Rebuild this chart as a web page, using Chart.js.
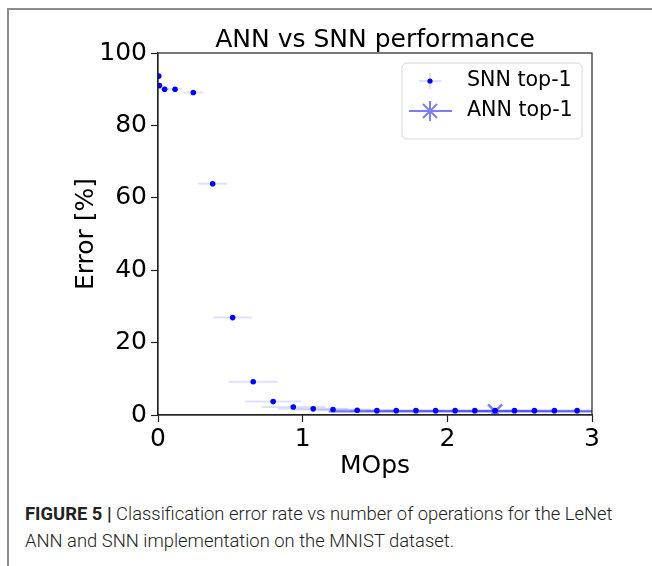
<!DOCTYPE html>
<html>
<head>
<meta charset="utf-8">
<script src="https://cdn.jsdelivr.net/npm/chart.js@4"></script>
<style>
  body { margin: 0; background: #fff; width: 652px; height: 566px; overflow: hidden; position: relative; }
  #frame { position: absolute; left: 7px; top: 8px; width: 700px; height: 600px;
           border-left: 2px solid #8c8c8c; border-top: 2px solid #8c8c8c; }
  #wrap { position: absolute; left: 0; top: 0; width: 652px; height: 480px; }
  #caption { position: absolute; left: 25px; top: 500px; width: 625px;
             font-family: Roboto, "Liberation Sans", sans-serif; font-weight: 300;
             font-size: 18.4px; line-height: 27px; color: #222; }
  #caption b { font-weight: 700; }
</style>
</head>
<body>
<div id="frame"></div>
<div id="wrap"><canvas id="chart" width="652" height="480"></canvas></div>
<div id="caption"><b>FIGURE 5 |</b> Classification error rate vs number of operations for the LeNet<br>ANN and SNN implementation on the MNIST dataset.</div>
<script>
// SNN operating points (MOps, error %) with horizontal error bars
const snnOps = [0.005, 0.01, 0.046, 0.118, 0.244, 0.378, 0.516, 0.658, 0.796, 0.935, 1.073, 1.21,
                1.377, 1.513, 1.647, 1.783, 1.919, 2.054, 2.19, 2.33, 2.464, 2.602, 2.74, 2.897];
const snnErr = [93.6, 91.0, 90.0, 90.0, 89.1, 63.9, 26.9, 9.2, 3.7, 2.2, 1.7, 1.5,
                1.3, 1.2, 1.2, 1.2, 1.2, 1.2, 1.2, 1.2, 1.2, 1.2, 1.2, 1.2];
const snnOpsSpread = [0.01, 0.02, 0.03, 0.05, 0.07, 0.10, 0.135, 0.17, 0.195, 0.22, 0.24, 0.26,
                      0.28, 0.30, 0.32, 0.34, 0.36, 0.38, 0.40, 0.42, 0.44, 0.46, 0.48, 0.50];
// ANN reference point
const annOps = [2.33];
const annErr = [1.0];
const annOpsSpread = [1.15];

const xTicks = [0, 1, 2, 3];
const yTicks = [0, 20, 40, 60, 80, 100];

const FONT = 'DejaVu Sans';
const SNN_BAR = 'rgba(0, 0, 255, 0.12)';
const ANN_COL = 'rgba(40, 40, 235, 0.6)';

// draws the horizontal error bars under the markers
const errorBars = {
    id: 'errorBars',
    beforeDatasetsDraw(chart) {
        const { ctx, chartArea, scales: { x, y } } = chart;
        ctx.save();
        ctx.beginPath();
        ctx.rect(chartArea.left, chartArea.top, chartArea.width, chartArea.height);
        ctx.clip();
        chart.data.datasets.forEach(ds => {
            ctx.strokeStyle = ds.barColor;
            ctx.lineWidth = 2;
            ds.data.forEach((p, i) => {
                const py = y.getPixelForValue(p.y);
                ctx.beginPath();
                ctx.moveTo(x.getPixelForValue(p.x - ds.spread[i]), py);
                ctx.lineTo(x.getPixelForValue(p.x + ds.spread[i]), py);
                ctx.stroke();
            });
        });
        ctx.restore();
    }
};

// top/right spines, title and the legend box
const decorations = {
    id: 'decorations',
    afterDraw(chart) {
        const { ctx, chartArea: a } = chart;
        ctx.save();
        ctx.strokeStyle = '#222';
        ctx.lineWidth = 1.2;
        ctx.strokeRect(a.left, a.top, a.width, a.height);

        ctx.fillStyle = '#000';
        ctx.font = '25px "' + FONT + '"';
        ctx.textAlign = 'center';
        ctx.textBaseline = 'alphabetic';
        ctx.fillText('ANN vs SNN performance', (a.left + a.right) / 2, 47);

        // legend
        const lx = 402, ly = 63, lw = 180, lh = 76, r = 5;
        ctx.beginPath();
        ctx.moveTo(lx + r, ly);
        ctx.arcTo(lx + lw, ly, lx + lw, ly + lh, r);
        ctx.arcTo(lx + lw, ly + lh, lx, ly + lh, r);
        ctx.arcTo(lx, ly + lh, lx, ly, r);
        ctx.arcTo(lx, ly, lx + lw, ly, r);
        ctx.closePath();
        ctx.fillStyle = 'rgba(255,255,255,0.85)';
        ctx.fill();
        ctx.strokeStyle = '#d6d6d6';
        ctx.lineWidth = 1;
        ctx.stroke();

        const mx = 430, r1 = 81, r2 = 111;
        ctx.strokeStyle = 'rgba(0, 0, 255, 0.16)';
        ctx.lineWidth = 1.5;
        ctx.beginPath();
        ctx.moveTo(419, r1); ctx.lineTo(441, r1);
        ctx.moveTo(mx, r1 - 8); ctx.lineTo(mx, r1 + 8);
        ctx.stroke();
        ctx.fillStyle = '#0000ff';
        ctx.beginPath();
        ctx.arc(mx, r1, 2.6, 0, Math.PI * 2);
        ctx.fill();

        ctx.strokeStyle = ANN_COL;
        ctx.lineWidth = 2;
        ctx.beginPath();
        ctx.moveTo(409, r2); ctx.lineTo(452, r2);
        ctx.moveTo(mx, r2 - 10); ctx.lineTo(mx, r2 + 10);
        ctx.moveTo(mx - 7, r2 - 7); ctx.lineTo(mx + 7, r2 + 7);
        ctx.moveTo(mx - 7, r2 + 7); ctx.lineTo(mx + 7, r2 - 7);
        ctx.stroke();

        ctx.fillStyle = '#000';
        ctx.font = '20.6px "' + FONT + '"';
        ctx.textAlign = 'left';
        ctx.textBaseline = 'middle';
        ctx.fillText('SNN top-1', 467, r1);
        ctx.fillText('ANN top-1', 467, r2);
        ctx.restore();
    }
};

const snnPoints = snnOps.map((v, i) => ({ x: v, y: snnErr[i] }));
const annPoints = annOps.map((v, i) => ({ x: v, y: annErr[i] }));

new Chart(document.getElementById('chart'), {
    type: 'scatter',
    data: {
        datasets: [
            {
                label: 'SNN top-1',
                data: snnPoints,
                spread: snnOpsSpread,
                barColor: SNN_BAR,
                pointStyle: 'circle',
                pointRadius: 2.8,
                pointBackgroundColor: '#0000ff',
                pointBorderWidth: 0
            },
            {
                label: 'ANN top-1',
                data: annPoints,
                spread: annOpsSpread,
                barColor: ANN_COL,
                pointStyle: 'crossRot',
                pointRadius: 10,
                pointBorderColor: ANN_COL,
                pointBorderWidth: 2.5
            }
        ]
    },
    options: {
        responsive: false,
        animation: false,
        layout: { padding: { left: 0, right: 60, top: 53, bottom: 0 } },
        plugins: {
            legend: { display: false },
            tooltip: { enabled: false }
        },
        scales: {
            x: {
                type: 'linear',
                min: 0, max: 3,
                afterBuildTicks: s => { s.ticks = xTicks.map(v => ({ value: v })); },
                afterFit: s => { s.height = 65; },
                ticks: { color: '#000', font: { family: FONT, size: 25 }, padding: 2, maxRotation: 0 },
                grid: { drawOnChartArea: false, tickLength: 7, color: '#222', tickWidth: 1.2 },
                border: { color: '#222', width: 1.2 },
                title: { display: true, text: 'MOps', color: '#000', font: { family: FONT, size: 25 }, padding: { top: 0, bottom: -1 } }
            },
            y: {
                type: 'linear',
                min: 0, max: 100,
                afterBuildTicks: s => { s.ticks = yTicks.map(v => ({ value: v })); },
                afterFit: s => { s.width = 158; },
                ticks: { color: '#000', font: { family: FONT, size: 25 }, padding: 4 },
                grid: { drawOnChartArea: false, tickLength: 7, color: '#222', tickWidth: 1.2 },
                border: { color: '#222', width: 1.2 },
                title: { display: true, text: 'Error [%]', color: '#000', font: { family: FONT, size: 25 }, padding: { top: 71, bottom: 0 } }
            }
        }
    },
    plugins: [errorBars, decorations]
});
</script>
</body>
</html>
